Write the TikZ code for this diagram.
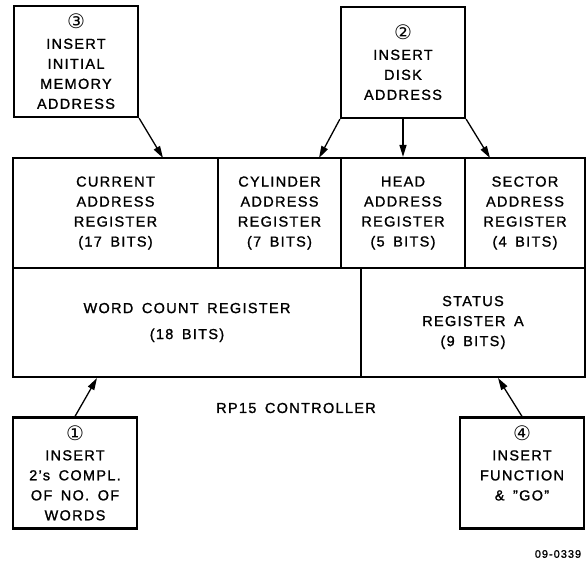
\documentclass[tikz,border=0pt]{standalone}
\usepackage{fontspec}
\setmainfont{Liberation Sans}[LetterSpace=9,FakeBold=1.2,WordSpace=1.6]
\newfontfamily\circfont{DejaVu Sans}
\usetikzlibrary{arrows.meta}
\newcommand{\circnum}[1]{{\circfont\fontsize{20}{20}\selectfont #1}}

\begin{document}
\begin{tikzpicture}[x=1pt,y=-1pt,
  every node/.style={font=\fontsize{14.5}{20}\selectfont,align=center},
  reg/.style={draw,line width=2.2pt,inner sep=0pt,minimum height=110pt},
  task/.style={draw,line width=2.2pt,inner sep=0pt,minimum width=124pt,minimum height=111pt},
  feed/.style={line width=1.3pt,-{Triangle[length=12pt,width=7pt]}}]
  \useasboundingbox (0,0) rectangle (587,563);
  % registers of the controller
  \node[reg,minimum width=205pt] (cur) at (115.5,213) {CURRENT\\ADDRESS\\REGISTER\\(17 BITS)};
  \node[reg,minimum width=123pt] (cyl) at (279.5,213) {CYLINDER\\ADDRESS\\REGISTER\\(7 BITS)};
  \node[reg,minimum width=124pt] (head) at (403,213) {HEAD\\ADDRESS\\REGISTER\\(5 BITS)};
  \node[reg,minimum width=120pt] (sect) at (525,213) {SECTOR\\ADDRESS\\REGISTER\\(4 BITS)};
  \node[reg,minimum width=348pt,minimum height=109pt] (wc) at (187,322.5) {WORD COUNT REGISTER\\[6pt](18 BITS)};
  \node[reg,minimum width=224pt,minimum height=109pt] (stat) at (473,322.5) {STATUS\\REGISTER A\\(9 BITS)};
  \node (ctrl) at (296,408) {RP15 CONTROLLER};
  % steps
  \node[task] (b3) at (76,61.5) {\circnum{③}\\INSERT\\INITIAL\\MEMORY\\ADDRESS};
  \node[task] (b2) at (403,62.5) {\circnum{②}\\INSERT\\DISK\\ADDRESS};
  \node[task] (b1) at (75,473) {\circnum{①}\\INSERT\\2’s COMPL.\\OF NO. OF\\WORDS};
  \node[task] (b4) at (522,473) {\circnum{④}\\INSERT\\FUNCTION\\\& {\char34}GO{\char34}\\\mbox{}};
  \node[font=\fontsize{11}{11}\selectfont] (fig) at (558,554) {09-0339};
  % arrow ends
  \coordinate (t3) at (163,158);
  \coordinate (t2a) at (319,158);
  \coordinate (t2c) at (490,158);
  \coordinate (t1) at (97,378);
  \coordinate (t4) at (498,378);
  \draw[feed] (b3.south east) -- (t3);
  \draw[feed] (b2.south west) -- (t2a);
  \draw[feed] (b2.south) -- (head.north);
  \draw[feed] (b2.south east) -- (t2c);
  \draw[feed] (b1.north) -- (t1);
  \draw[feed] (b4.north) -- (t4);
\end{tikzpicture}
\end{document}
